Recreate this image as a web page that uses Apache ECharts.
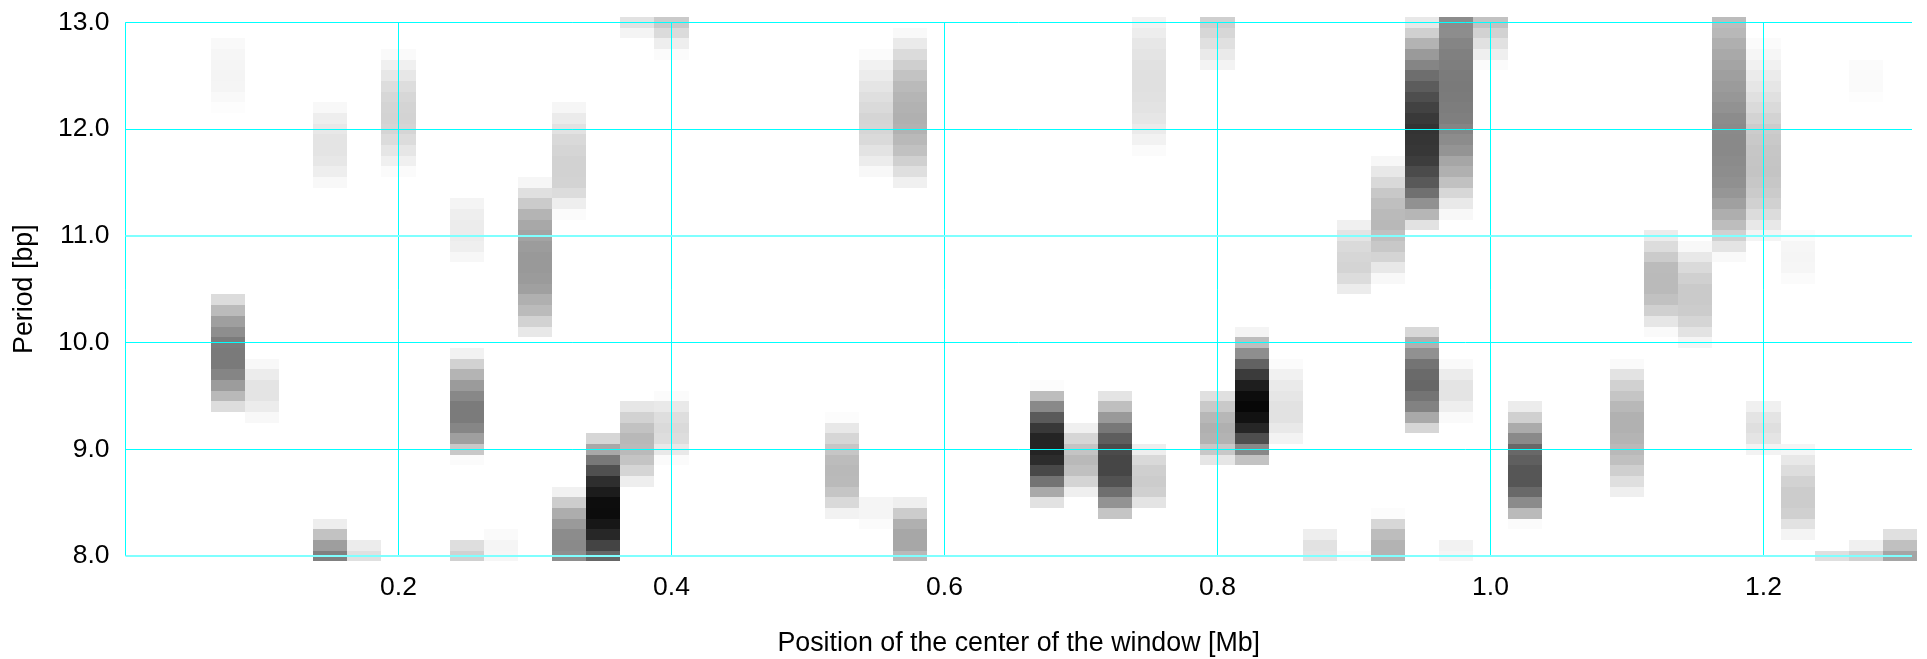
<!DOCTYPE html>
<html><head><meta charset="utf-8">
<style>html,body{margin:0;padding:0;background:#fff}#c{width:1927px;height:659px}</style>
<script src="https://cdn.jsdelivr.net/npm/echarts@6/dist/echarts.min.js"></script>
</head><body><div id="c"></div>
<script>
// position of each column group [Mb]
const positions = [0.075,0.075,0.1,0.15,0.15,0.175,0.2,0.25,0.25,0.25,0.275,0.3,0.325,0.325,0.35,0.375,0.375,0.4,0.4,
  0.525,0.55,0.55,0.575,0.575,0.675,0.7,0.725,0.75,0.75,0.8,0.8,0.825,0.85,0.875,0.9,0.9,0.925,0.925,
  0.95,0.95,0.975,0.975,0.975,1.0,1.025,1.1,1.125,1.15,1.175,1.2,1.2,1.225,1.225,1.25,1.275,1.275,1.3];
// lowest period of each group [bp]; rows step by 0.1 bp
const firstPeriods = [9.4,12.2,9.3,8.0,11.5,8.0,11.6,8.0,8.9,10.8,8.0,10.1,8.0,11.2,8.0,8.7,12.9,8.9,12.7,
  8.4,8.3,11.6,8.0,11.5,8.5,8.6,8.4,8.5,11.8,8.9,12.6,8.9,9.1,8.0,8.0,10.5,8.0,10.6,
  9.2,11.1,8.0,9.3,11.2,12.6,8.3,8.6,10.1,10.0,10.8,9.0,11.0,8.2,10.6,8.0,8.0,12.3,8.0];
// grey level (0 black .. 255 white) of each row, from low period to high
const greys = [
 [0xdd,0xb9,0x9c,0x85,0x7a,0x7a,0x7c,0x8e,0x9f,0xbb,0xdc],
 [0xfd,0xf9,0xf5,0xf4,0xf5,0xf6,0xf9],
 [0xf8,0xec,0xe4,0xe4,0xec,0xf8],
 [0x80,0x9e,0xc2,0xee],
 [0xf8,0xee,0xe7,0xe4,0xe4,0xe8,0xee,0xf8],
 [0xe0,0xec],
 [0xfb,0xf0,0xe6,0xdc,0xd5,0xd3,0xd4,0xd7,0xdd,0xe7,0xf0,0xfa],
 [0xd0,0xde],
 [0xfb,0xc8,0x9f,0x86,0x7b,0x7b,0x88,0x9b,0xb4,0xd2,0xf2],
 [0xf7,0xef,0xec,0xec,0xee,0xf4],
 [0xf6,0xf5,0xfa],
 [0xe8,0xd2,0xbb,0xb0,0xa0,0x9b,0x99,0x99,0x9c,0xa3,0xa8,0xb4,0xcb,0xe0,0xf6],
 [0x8e,0x8a,0x8c,0x9a,0xad,0xcd,0xf1],
 [0xfb,0xee,0xdc,0xd3,0xd2,0xd2,0xd5,0xd9,0xe2,0xeb,0xf6],
 [0x66,0x44,0x27,0x17,0x0c,0x0d,0x1c,0x2e,0x50,0x78,0xa8,0xd6],
 [0xee,0xd5,0xc4,0xba,0xb8,0xc2,0xd2,0xe6],
 [0xf4,0xe2],
 [0xfb,0xe9,0xdd,0xda,0xde,0xe9,0xfb],
 [0xfb,0xee,0xdb,0xca],
 [0xf2,0xd9,0xc5,0xba,0xb9,0xbc,0xc6,0xd6,0xe8,0xfc],
 [0xfb,0xf5,0xf5],
 [0xf8,0xec,0xe3,0xda,0xd6,0xd5,0xda,0xdf,0xe5,0xec,0xf2,0xfb],
 [0xb9,0xa7,0xa7,0xb0,0xcc,0xef],
 [0xf0,0xdf,0xd0,0xc1,0xb9,0xb2,0xb0,0xb2,0xb5,0xba,0xc3,0xcf,0xdb,0xea,0xf9],
 [0xe2,0xa9,0x73,0x48,0x2c,0x24,0x24,0x38,0x5a,0x89,0xbd,0xfc],
 [0xef,0xd4,0xc0,0xb9,0xc4,0xd6,0xf0],
 [0xc5,0x93,0x6f,0x52,0x46,0x46,0x4b,0x5e,0x78,0x99,0xbf,0xe4],
 [0xe4,0xd0,0xcc,0xcf,0xd9,0xee],
 [0xfb,0xf2,0xeb,0xe6,0xe3,0xe1,0xe0,0xe0,0xe1,0xe4,0xe7,0xed,0xf2],
 [0xe6,0xc8,0xb3,0xb0,0xb7,0xc9,0xe0],
 [0xf3,0xea,0xe0,0xd7,0xcf],
 [0xc3,0x88,0x4e,0x26,0x12,0x07,0x0d,0x1e,0x3b,0x62,0x8e,0xbd,0xf4],
 [0xf3,0xe9,0xe2,0xe2,0xe6,0xea,0xf1,0xfb],
 [0xe4,0xe2,0xee],
 [0xfb],
 [0xec,0xdc,0xd4,0xd6,0xda,0xe4,0xf0],
 [0xb3,0xb3,0xbd,0xd7,0xfc],
 [0xf8,0xe8,0xd4,0xc8,0xc0,0xb8,0xba,0xbf,0xc8,0xd9,0xe8,0xf7],
 [0xd6,0xa9,0x82,0x74,0x67,0x6a,0x74,0x91,0xb0,0xd8],
 [0xe2,0xb6,0x91,0x70,0x59,0x4b,0x3d,0x37,0x35,0x33,0x39,0x42,0x4e,0x5c,0x6e,0x85,0x9a,0xb3,0xd0,0xe8],
 [0xf5,0xf2],
 [0xfa,0xee,0xe4,0xe4,0xec,0xfa],
 [0xf8,0xe9,0xd7,0xc1,0xb0,0xa6,0x94,0x8c,0x85,0x7f,0x7d,0x7b,0x7a,0x7b,0x7e,0x80,0x85,0x8d,0x8c],
 [0xfb,0xef,0xe1,0xd2,0xc2],
 [0xfb,0xba,0x8b,0x69,0x56,0x56,0x5f,0x68,0x8a,0xab,0xd0,0xec],
 [0xef,0xdf,0xcf,0xc0,0xb9,0xb4,0xb1,0xb1,0xb8,0xc5,0xd1,0xe3,0xfa],
 [0xfa,0xe6,0xd0,0xc1,0xba,0xba,0xbb,0xcb,0xdc,0xec],
 [0xf5,0xe3,0xd5,0xcc,0xca,0xca,0xd0,0xda,0xe8,0xf8],
 [0xf9,0xe4,0xd0,0xbd,0xae,0xa0,0x96,0x90,0x8d,0x8b,0x89,0x89,0x8a,0x8c,0x92,0x97,0x9b,0x9f,0xa4,0xa9,0xaf,0xb8,0xbc],
 [0xf3,0xe4,0xdf,0xe4,0xf0],
 [0xf4,0xe8,0xdc,0xd1,0xcb,0xc7,0xc4,0xc5,0xc6,0xc9,0xcc,0xd3,0xda,0xe0,0xe6,0xeb,0xf1,0xf6,0xfb],
 [0xf4,0xe2,0xd0,0xcc,0xcc,0xd2,0xdd,0xe8,0xf5],
 [0xfb,0xf6,0xf5,0xf6,0xfb],
 [0xdf],
 [0xd0,0xf0],
 [0xfd,0xfa,0xfa,0xfb],
 [0xa5,0xc0,0xe0]
];
const xTicks = [0.2,0.4,0.6,0.8,1.0,1.2];
const yTicks = [8,9,10,11,12,13];
const xMax = 1.3088;
const xTitle = 'Position of the center of the window [Mb]';
const yTitle = 'Period [bp]';

const cells = [];
positions.forEach((x,i)=>{
  greys[i].forEach((g,j)=>{
    cells.push([x, +(firstPeriods[i]+j*0.1).toFixed(1), g]);
  });
});
const family = '"Liberation Sans",Arial,sans-serif';
const tickFont = {fontFamily:family,fontSize:26.5,color:'#000'};
const titleFont = {fontFamily:family,fontSize:26.8,color:'#000'};
const cyan = '#00ffff', none = 'rgba(0,0,0,0)';
const chart = echarts.init(document.getElementById('c'),null,{renderer:'canvas'});
chart.setOption({
  animation:false,
  backgroundColor:'#fff',
  grid:{left:125.5,right:15,top:22.3,height:533.7,show:false,outerBoundsMode:'none',containLabel:false},
  xAxis:{type:'value',min:0,max:xMax,interval:0.2,z:5,
    name:xTitle,nameLocation:'middle',nameGap:74.5,nameTextStyle:titleFont,
    axisLine:{show:false},axisTick:{show:false},
    splitLine:{show:true,lineStyle:{width:1,type:'solid',color:[cyan,cyan,cyan,cyan,cyan,cyan,cyan,none]}},
    axisLabel:Object.assign({},tickFont,{margin:18,showMinLabel:false,showMaxLabel:false,
      formatter:v=>xTicks.some(t=>Math.abs(t-v)<1e-6)?v.toFixed(1):''})},
  yAxis:{type:'value',min:yTicks[0],max:yTicks[5],interval:1,z:5,
    name:yTitle,nameLocation:'middle',nameGap:87,nameRotate:90,nameTextStyle:titleFont,
    axisLine:{show:false},axisTick:{show:false},
    splitLine:{show:true,lineStyle:{width:1,type:'solid',color:[none,cyan,cyan,none,cyan,cyan]}},
    axisLabel:Object.assign({},tickFont,{margin:16,formatter:v=>v.toFixed(1)})},
  series:[{type:'custom',silent:true,clip:false,data:cells,
    encode:{x:0,y:1},
    renderItem(params,api){
      const x=api.value(0),y=api.value(1),g=api.value(2);
      const a=api.coord([x-0.0125,y+0.05]),b=api.coord([x+0.0125,y-0.05]);
      const x0=Math.round(a[0]),y0=Math.round(a[1]),x1=Math.round(b[0]),y1=Math.round(b[1]);
      return {type:'rect',shape:{x:x0,y:y0,width:x1-x0,height:y1-y0},
        style:{fill:`rgb(${g},${g},${g})`,stroke:null}};
    },
    markLine:{silent:true,symbol:'none',z:6,animation:false,label:{show:false},
      lineStyle:{color:'#7fffff',width:2,type:'solid'},
      data:[{yAxis:8},{yAxis:11},{xAxis:xMax}]}
  }]
});
</script></body></html>
